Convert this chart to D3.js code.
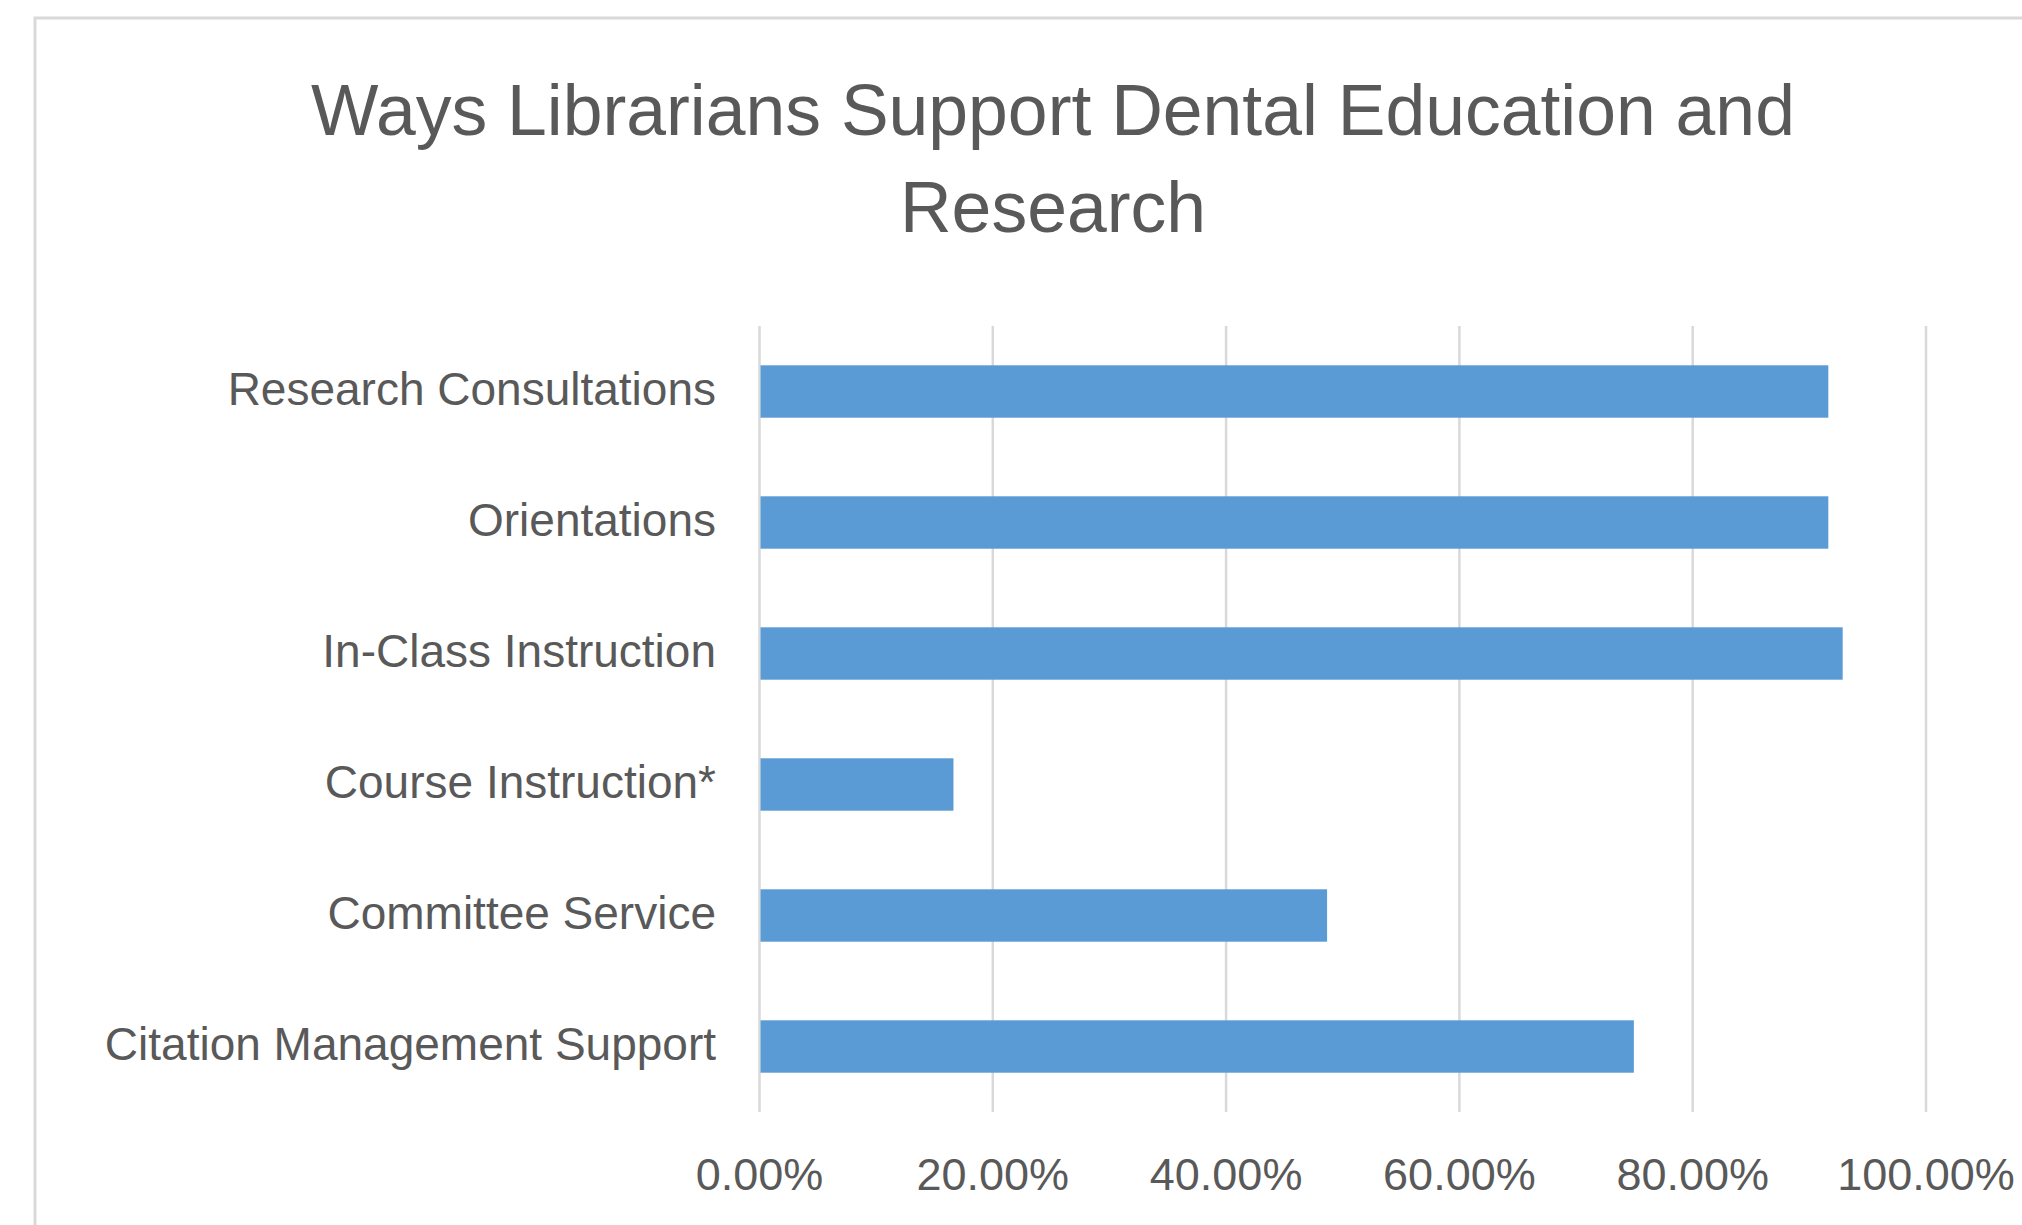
<!DOCTYPE html>
<html>
<head>
<meta charset="utf-8">
<script src="https://cdn.jsdelivr.net/npm/d3@7"></script>
<style>
    html, body { margin: 0; padding: 0; background: #ffffff; }
    svg { display: block; }
</style>
</head>
<body>
<div id="chart"></div>
<script>
"use strict"

// Data.
let categories = [
    "Research Consultations",
    "Orientations",
    "In-Class Instruction",
    "Course Instruction*",
    "Committee Service",
    "Citation Management Support"
];
let values = [0.9167, 0.9167, 0.929, 0.1667, 0.487, 0.75];
let tick_values = [0, 0.2, 0.4, 0.6, 0.8, 1.0];
let title_lines = ["Ways Librarians Support Dental Education and", "Research"];

let width = 2022, height = 1225;
let font = "'Liberation Sans', Arial, sans-serif";
let text_color = "#595959";
let grid_color = "#d9d9d9";
let bar_color = "#5b9bd5";

let svg = d3.select("#chart").append("svg")
    .attr("width", width)
    .attr("height", height);

svg.append("rect")
    .attr("width", width)
    .attr("height", height)
    .style("fill", "#ffffff");

// Chart area border, runs off the right and bottom edge.
svg.append("rect")
    .attr("x", 35)
    .attr("y", 18)
    .attr("width", width + 100)
    .attr("height", height + 100)
    .style("fill", "none")
    .style("stroke", grid_color)
    .style("stroke-width", 3);

// Plot area.
let plot = {left: 759, right: 1925.5, top: 326, bottom: 1112};

let x = d3.scaleLinear().domain([0, 1]).range([plot.left, plot.right]);
let y = d3.scaleBand().domain(categories).range([plot.top, plot.bottom])
    .paddingInner(0.6)
    .paddingOuter(0.3);

// Title, centred over the chart.
let _title = svg.append("text")
    .attr("x", 1053)
    .attr("y", 135)
    .attr("text-anchor", "middle")
    .style("font-family", font)
    .style("font-size", "71.5px")
    .style("fill", text_color);
_title.selectAll("tspan").data(title_lines).enter().append("tspan")
    .attr("x", 1053)
    .attr("dy", function(d, i) { return i == 0 ? 0 : 97; })
    .text(function(d) { return d; });

// Vertical gridlines (the 0 line doubles as the axis line).
let x_axis = d3.axisBottom(x)
    .tickValues(tick_values)
    .tickSize(-(plot.bottom - plot.top))
    .tickPadding(0)
    .tickFormat(d3.format(".2%"));

let _xg = svg.append("g")
    .attr("transform", "translate(0," + plot.bottom + ")")
    .call(x_axis);
_xg.select(".domain").remove();
_xg.selectAll(".tick line")
    .style("stroke", grid_color)
    .style("stroke-width", 2.5);
_xg.selectAll(".tick text")
    .attr("y", 78)
    .attr("dy", 0)
    .style("font-family", font)
    .style("font-size", "45px")
    .style("fill", text_color);

// Bars.
svg.append("g").selectAll(".bar_block")
    .data(values)
    .enter().append("rect")
    .attr("class", "bar_block")
    .attr("x", x(0) + 1.5)
    .attr("y", function(d, i) { return y(categories[i]); })
    .attr("height", y.bandwidth())
    .attr("width", function(d) { return x(d) - x(0) - 1.5; })
    .style("fill", bar_color);

// Category labels.
let y_axis = d3.axisLeft(y).tickSize(0).tickPadding(43);
let _yg = svg.append("g")
    .attr("transform", "translate(" + plot.left + ",0)")
    .call(y_axis);
_yg.select(".domain").remove();
_yg.selectAll(".tick text")
    .attr("dy", "0.3em")
    .style("font-family", font)
    .style("font-size", "46px")
    .style("fill", text_color);
</script>
</body>
</html>
